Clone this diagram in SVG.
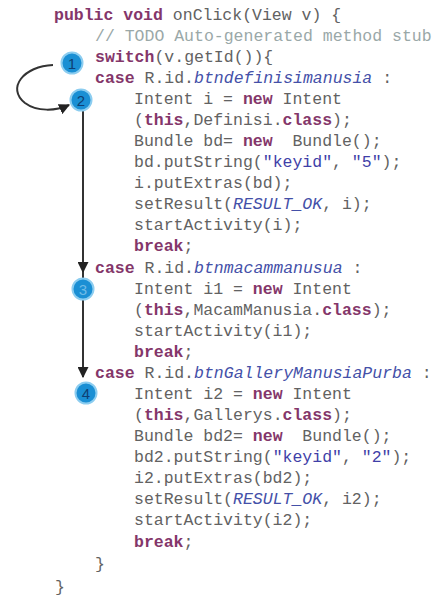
<svg xmlns="http://www.w3.org/2000/svg" width="439" height="598" viewBox="0 0 439 598">
<style>
.code{font-family:"Liberation Mono","Courier New",monospace;font-size:16.5px;fill:#626262;white-space:pre}
.kw{fill:#84366a;font-weight:bold}
.cm{fill:#9aa8a8}
.fld{fill:#4450a8;font-style:italic}
.str{fill:#3f3fa8}
.badge{fill:#1a8fd4;stroke:#8ccdf0;stroke-width:2}
.num{font-family:"Liberation Sans",Arial,sans-serif;font-size:15px;fill:#0e3f73;text-anchor:middle}
.conn{fill:none;stroke:#333;stroke-width:2}
</style>
<defs>
<marker id="ah" viewBox="0 0 10 10" refX="9" refY="5" markerWidth="5.5" markerHeight="5.5" orient="auto" markerUnits="strokeWidth">
<path d="M0,0 L10,5 L0,10 z" fill="#222"/>
</marker>
</defs>
<rect width="439" height="598" fill="#fff"/>
<g id="code" class="code">
<text x="54" y="19.5"><tspan class="kw">public void</tspan> onClick(View v) {</text>
<text x="95" y="40.6" class="cm">// TODO Auto-generated method stub</text>
<text x="95" y="61.7"><tspan class="kw">switch</tspan>(v.getId()){</text>
<text x="95" y="82.7"><tspan class="kw">case</tspan> R.id.<tspan class="fld">btndefinisimanusia</tspan> :</text>
<text x="134" y="103.8">Intent i = <tspan class="kw">new</tspan> Intent</text>
<text x="134" y="124.9">(<tspan class="kw">this</tspan>,Definisi.<tspan class="kw">class</tspan>);</text>
<text x="134" y="146" xml:space="preserve">Bundle bd= <tspan class="kw">new</tspan>  Bundle();</text>
<text x="134" y="167.1">bd.putString(<tspan class="str">"keyid"</tspan>, <tspan class="str">"5"</tspan>);</text>
<text x="134" y="188.1">i.putExtras(bd);</text>
<text x="134" y="209.2">setResult(<tspan class="fld">RESULT_OK</tspan>, i);</text>
<text x="134" y="230.3">startActivity(i);</text>
<text x="134" y="251.4"><tspan class="kw">break</tspan>;</text>
<text x="95" y="272.5"><tspan class="kw">case</tspan> R.id.<tspan class="fld">btnmacammanusua</tspan> :</text>
<text x="134" y="293.5">Intent i1 = <tspan class="kw">new</tspan> Intent</text>
<text x="134" y="314.6">(<tspan class="kw">this</tspan>,MacamManusia.<tspan class="kw">class</tspan>);</text>
<text x="134" y="335.7">startActivity(i1);</text>
<text x="134" y="356.8"><tspan class="kw">break</tspan>;</text>
<text x="95" y="377.9"><tspan class="kw">case</tspan> R.id.<tspan class="fld">btnGalleryManusiaPurba</tspan> :</text>
<text x="134" y="398.9">Intent i2 = <tspan class="kw">new</tspan> Intent</text>
<text x="134" y="420">(<tspan class="kw">this</tspan>,Gallerys.<tspan class="kw">class</tspan>);</text>
<text x="134" y="441.1" xml:space="preserve">Bundle bd2= <tspan class="kw">new</tspan>  Bundle();</text>
<text x="134" y="462.2">bd2.putString(<tspan class="str">"keyid"</tspan>, <tspan class="str">"2"</tspan>);</text>
<text x="134" y="483.3">i2.putExtras(bd2);</text>
<text x="134" y="504.3">setResult(<tspan class="fld">RESULT_OK</tspan>, i2);</text>
<text x="134" y="525.4">startActivity(i2);</text>
<text x="134" y="546.5"><tspan class="kw">break</tspan>;</text>
<text x="95" y="568.5">}</text>
<text x="55" y="591.5">}</text>
</g>
<g id="connectors">
<path class="conn" d="M53,65 C24,66 6,88 25,103 C37,112 56,111 69,105" marker-end="url(#ah)"/>
<path class="conn" d="M83,111 L83,272" marker-end="url(#ah)"/>
<path class="conn" d="M83,272 L83,377" marker-end="url(#ah)"/>
</g>
<g id="n1"><circle class="badge" cx="72" cy="63" r="10.5"/><text class="num" x="72" y="68.5">1</text></g>
<g id="n2"><circle class="badge" cx="81" cy="100" r="10.5"/><text class="num" x="81" y="105.5">2</text></g>
<g id="n3"><circle class="badge" cx="83" cy="289" r="10.5"/><text class="num" x="83" y="294.5" style="fill:#6fbbe6">3</text></g>
<g id="n4"><circle class="badge" cx="86" cy="393" r="10.5"/><text class="num" x="86" y="398.5">4</text></g>
</svg>
